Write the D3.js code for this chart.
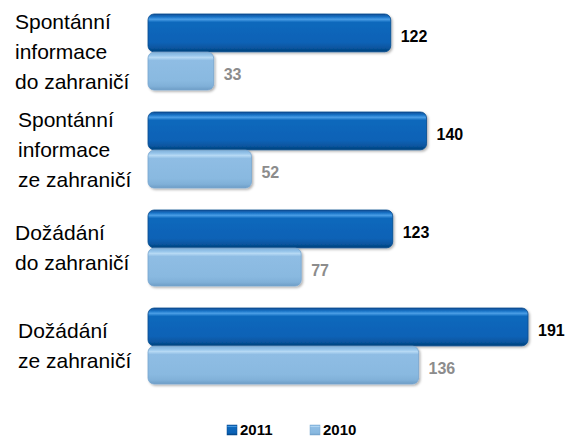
<!DOCTYPE html>
<html>
<head>
<meta charset="utf-8">
<script src="https://cdn.jsdelivr.net/npm/d3@7"></script>
<style>
  body { margin: 0; background: #fff; }
  text { font-family: "Liberation Sans", Arial, sans-serif; }
</style>
</head>
<body>
<svg id="chart" width="568" height="438"></svg>
<script>
// data
const categories = [
  ['Spontánní', 'informace', 'do zahraničí'],
  ['Spontánní', 'informace', 'ze zahraničí'],
  ['Dožádání', 'do zahraničí'],
  ['Dožádání', 'ze zahraničí'],
];
const seriesNames = ['2011', '2010'];
const values2011 = [122, 140, 123, 191];
const values2010 = [33, 52, 77, 136];

const svg = d3.select('#chart');

const x = d3.scaleLinear().domain([0, 191]).range([148, 528]);
const y = d3.scaleBand().domain(d3.range(categories.length)).range([14, 384]).paddingInner(0.225).paddingOuter(0);
const sub = d3.scaleBand().domain(seriesNames).range([0, y.bandwidth()]).paddingInner(0.01);

const defs = svg.append('defs');
function grad(id, stops) {
  const g = defs.append('linearGradient').attr('id', id).attr('x1', 0).attr('y1', 0).attr('x2', 0).attr('y2', 1);
  stops.forEach(s => g.append('stop').attr('offset', s[0]).attr('stop-color', s[1]));
}
grad('g2011', [[0, '#0a4f96'], [0.08, '#1b74c8'], [0.14, '#4a9ee6'], [0.22, '#0e68bc'], [0.75, '#0a62b6'], [0.9, '#07559f'], [1, '#043e78']]);
grad('g2010', [[0, '#7fb0da'], [0.08, '#95c4ea'], [0.14, '#b6d9f4'], [0.22, '#8fbde4'], [0.75, '#89b9e0'], [0.9, '#80b0d8'], [1, '#6d9dc6']]);
const f = defs.append('filter').attr('id', 'shadow').attr('x', '-5%').attr('y', '-10%').attr('width', '115%').attr('height', '130%');
f.append('feDropShadow').attr('dx', 1.5).attr('dy', 1.5).attr('stdDeviation', 1.2).attr('flood-color', '#000').attr('flood-opacity', 0.3);

const series = [
  { name: '2011', values: values2011, fill: 'url(#g2011)', stroke: '#064a8e', label: '#000' },
  { name: '2010', values: values2010, fill: 'url(#g2010)', stroke: '#78a6cf', label: '#8c8c8c' },
];

series.forEach(s => {
  const g = svg.append('g');
  g.selectAll('rect')
    .data(s.values)
    .enter()
    .append('rect')
    .attr('x', x(0))
    .attr('y', (d, i) => y(i) + sub(s.name))
    .attr('width', d => x(d) - x(0))
    .attr('height', sub.bandwidth())
    .attr('rx', 6)
    .attr('ry', 6)
    .attr('fill', s.fill)
    .attr('stroke', s.stroke)
    .attr('stroke-width', 0.8)
    .attr('filter', 'url(#shadow)');

  g.selectAll('text')
    .data(s.values)
    .enter()
    .append('text')
    .attr('x', d => x(d) + 10)
    .attr('y', (d, i) => y(i) + sub(s.name) + sub.bandwidth() / 2 + 9)
    .attr('font-size', 16)
    .attr('font-weight', 'bold')
    .attr('fill', s.label)
    .text(d => d);
});

// category labels
const labels = svg.append('g');
categories.forEach((lines, i) => {
  const cy = y(i) + y.bandwidth() / 2;
  const lh = 30;
  const top = cy - ((lines.length - 1) * lh) / 2;
  const lx = i === 1 || i === 3 ? 18 : 15;
  labels.append('text')
    .attr('font-size', 21)
    .attr('fill', '#000')
    .selectAll('tspan')
    .data(lines)
    .enter()
    .append('tspan')
    .attr('x', lx)
    .attr('y', (d, j) => top + j * lh + 7)
    .text(d => d);
});

// legend
const legend = svg.append('g');
const legendX = [227, 310];
series.forEach((s, i) => {
  legend.append('rect')
    .attr('x', legendX[i])
    .attr('y', 425)
    .attr('width', 10)
    .attr('height', 10)
    .attr('fill', s.fill)
    .attr('stroke', s.stroke)
    .attr('stroke-width', 0.5);
  legend.append('text')
    .attr('x', legendX[i] + 13)
    .attr('y', 435)
    .attr('font-size', 15)
    .attr('font-weight', 'bold')
    .attr('fill', '#000')
    .text(s.name);
});
</script>
</body>
</html>
